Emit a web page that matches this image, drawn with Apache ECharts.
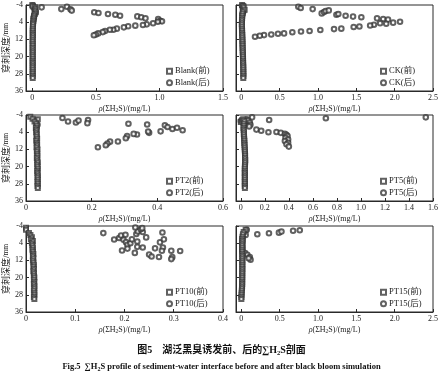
<!DOCTYPE html>
<html><head><meta charset="utf-8">
<script src="https://cdn.jsdelivr.net/npm/echarts@6/dist/echarts.min.js"></script>
<style>html,body{margin:0;padding:0;background:#fff}#c{width:443px;height:374px}</style>
</head><body><div id="c"></div>
<script>
// ---- data: [rho(ΣH2S) mg/L, depth mm] ----
const panelNames = ['Blank','CK','PT2','PT5','PT10','PT15'];
const yTicks = [-4, 4, 12, 20, 28, 36];
const xTicksBlank = [0, 0.5, 1.0, 1.5];
const xTicksCK = [0, 0.5, 1.0, 1.5, 2.0, 2.5];
const xTicksPT2 = [0, 0.2, 0.4, 0.6];
const xTicksPT5 = [0, 0.2, 0.4, 0.6, 0.8, 1.0, 1.2, 1.4, 1.6];
const xTicksPT10 = [0, 0.1, 0.2, 0.3, 0.4];
const xTicksPT15 = [0, 0.5, 1.0, 1.5, 2.0, 2.5];

const blankBefore = [[0.000,-4],[0.003,-3.4],[0.020,-3],[0.025,-2.2],[0.022,-1.4],[0.026,-0.6],[0.018,0.2],[0.014,1],[0.012,1.8],[0.010,2.6],[0.008,3.4],[0.006,4.2],[0.005,5],[0.004,6],[0.004,7],[0.003,8],[0.003,9],[0.004,10],[0.003,11],[0.003,12],[0.002,13],[0.003,14],[0.003,15],[0.002,16],[0.003,17],[0.003,18],[0.002,19],[0.003,20],[0.003,21],[0.002,22],[0.003,23],[0.003,24],[0.002,25],[0.003,26],[0.003,27],[0.002,28],[0.003,29],[0.003,30]];
const blankAfter = [[0.004,-3.8],[0.012,-2.6],[0.020,-1.6],[0.026,-0.5],[0.016,0.6],[0.010,1.8],[0.073,-2.9],[0.228,-2.1],[0.272,-3.2],[0.300,-2.0],[0.310,-1.4],[0.487,-0.6],[0.520,-0.3],[0.595,0.2],[0.653,0.5],[0.690,1.0],[0.826,1.3],[0.857,1.7],[0.890,2.2],[0.990,2.5],[1.005,3.3],[1.020,3.6],[0.987,3.8],[0.950,4.5],[0.900,5.0],[0.870,5.3],[0.810,5.6],[0.754,5.9],[0.720,6.4],[0.665,7.0],[0.637,7.5],[0.610,7.5],[0.572,8.1],[0.554,8.6],[0.518,9.2],[0.500,9.7],[0.484,10.1]];

const ckBefore = [[0.010,-4],[0.025,-3.5],[0.030,-2.8],[0.043,-1.8],[0.020,-1],[0.015,0],[0.012,1],[0.010,2],[0.008,3],[0.008,4],[0.006,5],[0.007,6],[0.008,7],[0.010,8],[0.010,9],[0.012,10],[0.012,11],[0.014,12],[0.014,13],[0.015,14],[0.016,15],[0.016,16],[0.018,17],[0.018,18],[0.020,19],[0.020,20],[0.022,21],[0.022,22],[0.023,23],[0.024,24],[0.025,25],[0.025,26],[0.026,27],[0.026,28],[0.027,29],[0.025,30]];
const ckAfter = [[0.010,-3.6],[0.020,-2.4],[0.030,-1.2],[0.015,0.2],[0.743,-3.2],[0.774,-2.6],[0.930,-2.1],[1.048,-0.1],[1.078,-0.7],[1.100,-1.2],[1.140,-1.5],[1.240,0.5],[1.265,0.2],[1.360,1.0],[1.457,1.4],[1.565,1.7],[1.770,2.2],[1.850,2.5],[1.913,2.8],[1.980,4.2],[2.070,3.8],[1.890,4.7],[1.810,4.5],[1.730,5.2],[1.680,5.5],[1.540,6.0],[1.465,6.2],[1.304,7.0],[1.209,7.2],[1.030,7.6],[0.890,8.1],[0.778,8.3],[0.665,8.7],[0.557,9.2],[0.478,9.4],[0.390,9.7],[0.296,10.0],[0.240,10.3],[0.178,10.8]];

const pt2Before = [[0.013,-3.2],[0.020,-2.2],[0.036,-2.0],[0.026,-1],[0.031,0],[0.033,1],[0.030,2],[0.032,3],[0.031,4],[0.033,5],[0.032,6],[0.034,7],[0.031,8],[0.033,9],[0.034,10],[0.032,11],[0.035,12],[0.033,13],[0.034,14],[0.035,15],[0.033,16],[0.034,17],[0.036,18],[0.034,19],[0.035,20],[0.036,21],[0.034,22],[0.035,23],[0.036,24],[0.035,25],[0.036,26],[0.035,27],[0.036,28],[0.035,29],[0.036,30]];
const pt2After = [[0.030,-1.5],[0.035,0.5],[0.032,2.5],[0.111,-2.6],[0.128,-1.0],[0.152,-0.5],[0.160,-1.4],[0.189,-1.7],[0.187,-0.2],[0.312,0.1],[0.369,0.4],[0.423,0.8],[0.431,1.6],[0.446,2.5],[0.460,1.9],[0.477,3.1],[0.410,3.6],[0.375,4.3],[0.372,3.7],[0.338,5.1],[0.328,4.8],[0.308,5.8],[0.304,6.8],[0.280,8.3],[0.256,8.4],[0.248,9.3],[0.243,10.1],[0.219,11.0]];

const pt5Before = [[0.000,-0.7],[0.010,-1.6],[0.020,-2.0],[0.030,-1.2],[0.025,0],[0.025,1],[0.022,2],[0.024,3],[0.026,4],[0.025,5],[0.027,6],[0.028,7],[0.030,8],[0.029,9],[0.031,10],[0.032,11],[0.033,12],[0.034,13],[0.035,14],[0.036,15],[0.035,16],[0.037,17],[0.036,18],[0.035,19],[0.034,20],[0.033,21],[0.034,22],[0.033,23],[0.034,24],[0.033,25],[0.034,26],[0.033,27],[0.034,28],[0.033,29],[0.034,30]];
const pt5After = [[0.000,-1.2],[0.020,-0.4],[0.035,0.4],[0.050,-2.0],[0.094,-2.9],[0.236,-1.7],[0.708,-2.5],[1.540,-2.9],[0.060,-1.4],[0.075,-0.5],[0.080,0.5],[0.070,1.3],[0.130,2.8],[0.170,3.3],[0.230,4.0],[0.297,3.9],[0.333,4.3],[0.367,4.8],[0.380,5.2],[0.389,5.8],[0.372,6.6],[0.394,7.4],[0.367,8.1],[0.394,8.9],[0.380,9.6],[0.400,10.7]];

const pt10Before = [[0.000,-3.2],[0.000,-2.2],[0.006,-0.8],[0.009,0.2],[0.012,1.2],[0.010,2.2],[0.014,3],[0.012,4],[0.013,5],[0.014,6],[0.013,7],[0.014,8],[0.015,9],[0.014,10],[0.015,11],[0.014,12],[0.015,13],[0.016,14],[0.015,15],[0.016,16],[0.015,17],[0.016,18],[0.016,19],[0.017,20],[0.016,21],[0.017,22],[0.016,23],[0.017,24],[0.017,25],[0.016,26],[0.017,27],[0.017,28],[0.016,29],[0.017,30]];
const pt10After = [[0.157,-0.7],[0.179,2.3],[0.189,1.6],[0.193,0.4],[0.202,0.1],[0.198,2.4],[0.203,3.5],[0.206,4.8],[0.195,7.4],[0.212,4.0],[0.224,-0.3],[0.227,-1.5],[0.226,3.2],[0.222,-3.3],[0.237,-1.2],[0.244,1.3],[0.226,5.7],[0.233,-2.5],[0.236,-3.0],[0.277,-1.0],[0.272,3.6],[0.278,6.0],[0.276,7.5],[0.262,6.4],[0.280,2.2],[0.295,7.5],[0.297,10.5],[0.295,11.4],[0.313,7.6],[0.250,9.3],[0.255,10.2],[0.270,10.4],[0.215,2.2],[0.206,6.5],[0.237,6.0],[0.221,8.5]];

const pt15Before = [[0.056,-2.2],[0.030,-1.2],[0.020,-0.2],[0.015,1],[0.012,2],[0.014,3],[0.012,4],[0.010,5],[0.012,6],[0.010,7],[0.011,8],[0.012,9],[0.013,10],[0.012,11],[0.013,12],[0.012,13],[0.013,14],[0.012,15],[0.013,16],[0.012,17],[0.012,18],[0.011,19],[0.012,20],[0.011,21],[0.010,22],[0.011,23],[0.010,24],[0.008,25],[0.006,26],[0.004,27],[0.002,28],[0.001,29],[0.000,30]];
const pt15After = [[0.070,-2.2],[0.056,0.15],[0.208,-0.15],[0.360,-0.6],[0.490,-0.9],[0.523,-1.4],[0.675,-1.8],[0.762,-2.0],[0.015,1.5],[0.015,3],[0.012,4.5],[0.015,6],[0.015,7.5],[0.050,8.6],[0.078,9.4],[0.110,10.5],[0.120,11.7],[0.095,11.0]];

// ---- layout ----
const FONT = '"Liberation Serif", "Noto Sans CJK SC", serif';
const INK = '#2a2a2a';
const MARK = '#3a3a3a';
const rowsTop = [5, 115, 226];
const colLeft = [26, 236];
const gW = 197, gH = 86;
const panels = [
  {name:'Blank', before:blankBefore, after:blankAfter, min:-0.05, max:1.5, ticks:xTicksBlank},
  {name:'CK', before:ckBefore, after:ckAfter, min:-0.07, max:2.5, ticks:xTicksCK},
  {name:'PT2', before:pt2Before, after:pt2After, min:0, max:0.6, ticks:xTicksPT2},
  {name:'PT5', before:pt5Before, after:pt5After, min:-0.04, max:1.6, ticks:xTicksPT5},
  {name:'PT10', before:pt10Before, after:pt10After, min:0, max:0.4, ticks:xTicksPT10},
  {name:'PT15', before:pt15Before, after:pt15After, min:-0.07, max:2.5, ticks:xTicksPT15}
];

const grid = [], xAxis = [], yAxis = [], series = [], legend = [];
panels.forEach((p, i) => {
  const r = Math.floor(i / 2), c = i % 2;
  grid.push({left: colLeft[c], top: rowsTop[r], width: gW, height: gH, show: true,
    borderColor: INK, borderWidth: 1, backgroundColor: 'transparent'});
  xAxis.push({type: 'value', gridIndex: i, min: p.min, max: p.max, position: 'bottom',
    axisLine: {show: true, onZero: false, lineStyle: {color: INK, width: 1}},
    axisTick: {show: true, inside: true, length: 3, customValues: p.ticks, lineStyle: {color: INK}},
    axisLabel: {show: true, customValues: p.ticks, fontFamily: FONT, fontSize: 8, color: '#222', margin: 3,
      formatter: v => (Math.abs(v) < 1e-9 ? '0' : (+v).toFixed(1))},
    splitLine: {show: false},
    name: '{i|ρ}(ΣH{s|2}S)/(mg/L)', nameLocation: 'middle', nameGap: 13,
    nameTextStyle: {fontFamily: FONT, fontSize: 8, color: '#222',
      rich: {i: {fontStyle: 'italic', fontFamily: FONT, fontSize: 8, color: '#222'},
             s: {fontFamily: FONT, fontSize: 5.5, color: '#222', padding: [4, 0, 0, 0]}}}
  });
  yAxis.push({type: 'value', gridIndex: i, inverse: true, min: yTicks[0], max: yTicks[yTicks.length-1], interval: 8,
    position: 'left',
    axisLine: {show: true, onZero: false, lineStyle: {color: INK, width: 1}},
    axisTick: {show: true, inside: true, length: 3, lineStyle: {color: INK}},
    axisLabel: {show: c === 0, fontFamily: FONT, fontSize: 8, color: '#222', margin: 3},
    splitLine: {show: false},
    name: c === 0 ? '{a|穿刺深度/}{m|mm}' : '', nameLocation: 'middle', nameGap: 15, nameRotate: 90,
    nameTextStyle: {fontFamily: FONT, fontSize: 9, color: '#222',
      rich: {a: {fontFamily: FONT, fontSize: 9, color: '#222'}, m: {fontFamily: FONT, fontSize: 7.5, color: '#222'}}}
  });
  const nb = p.name + '(前)', na = p.name + '(后)';
  series.push({type: 'scatter', name: nb, xAxisIndex: i, yAxisIndex: i, data: p.before,
    symbol: 'emptyRect', symbolSize: 4, itemStyle: {color: MARK, borderWidth: 0.7}, z: 3});
  series.push({type: 'scatter', name: na, xAxisIndex: i, yAxisIndex: i, data: p.after,
    symbol: 'emptyCircle', symbolSize: 4.6, itemStyle: {color: MARK, borderWidth: 0.7}, z: 2});
  legend.push({data: [nb, na], orient: 'vertical', left: c === 0 ? 166 : 380, top: rowsTop[r] + 62,
    itemWidth: 5, itemHeight: 5, itemGap: 3, padding: 0,
    textStyle: {fontFamily: FONT, fontSize: 8.5, color: '#222', padding: [0, 0, 0, -2]}});
});

const option = {
  animation: false,
  backgroundColor: '#fff',
  grid, xAxis, yAxis, series, legend,
  title: [
    {text: '{a|图5　湖泛黑臭诱发前、后的∑H}{s|2}{a|S剖面}', left: 'center', top: 340,
      textStyle: {rich: {a: {fontFamily: FONT, fontSize: 10, fontWeight: 'bold', color: '#111'},
                         s: {fontFamily: FONT, fontSize: 6.5, fontWeight: 'bold', color: '#111', padding: [5,0,0,0]}}}},
    {text: '{a|Fig.5  ∑H}{s|2}{a|S profile of sediment-water interface before and after black bloom simulation}', left: 'center', top: 357,
      textStyle: {rich: {a: {fontFamily: FONT, fontSize: 8.5, color: '#111'},
                         s: {fontFamily: FONT, fontSize: 6, color: '#111', padding: [4,0,0,0]}}}}
  ]
};
const chart = echarts.init(document.getElementById('c'), null, {renderer: 'canvas'});
chart.setOption(option);
</script></body></html>
